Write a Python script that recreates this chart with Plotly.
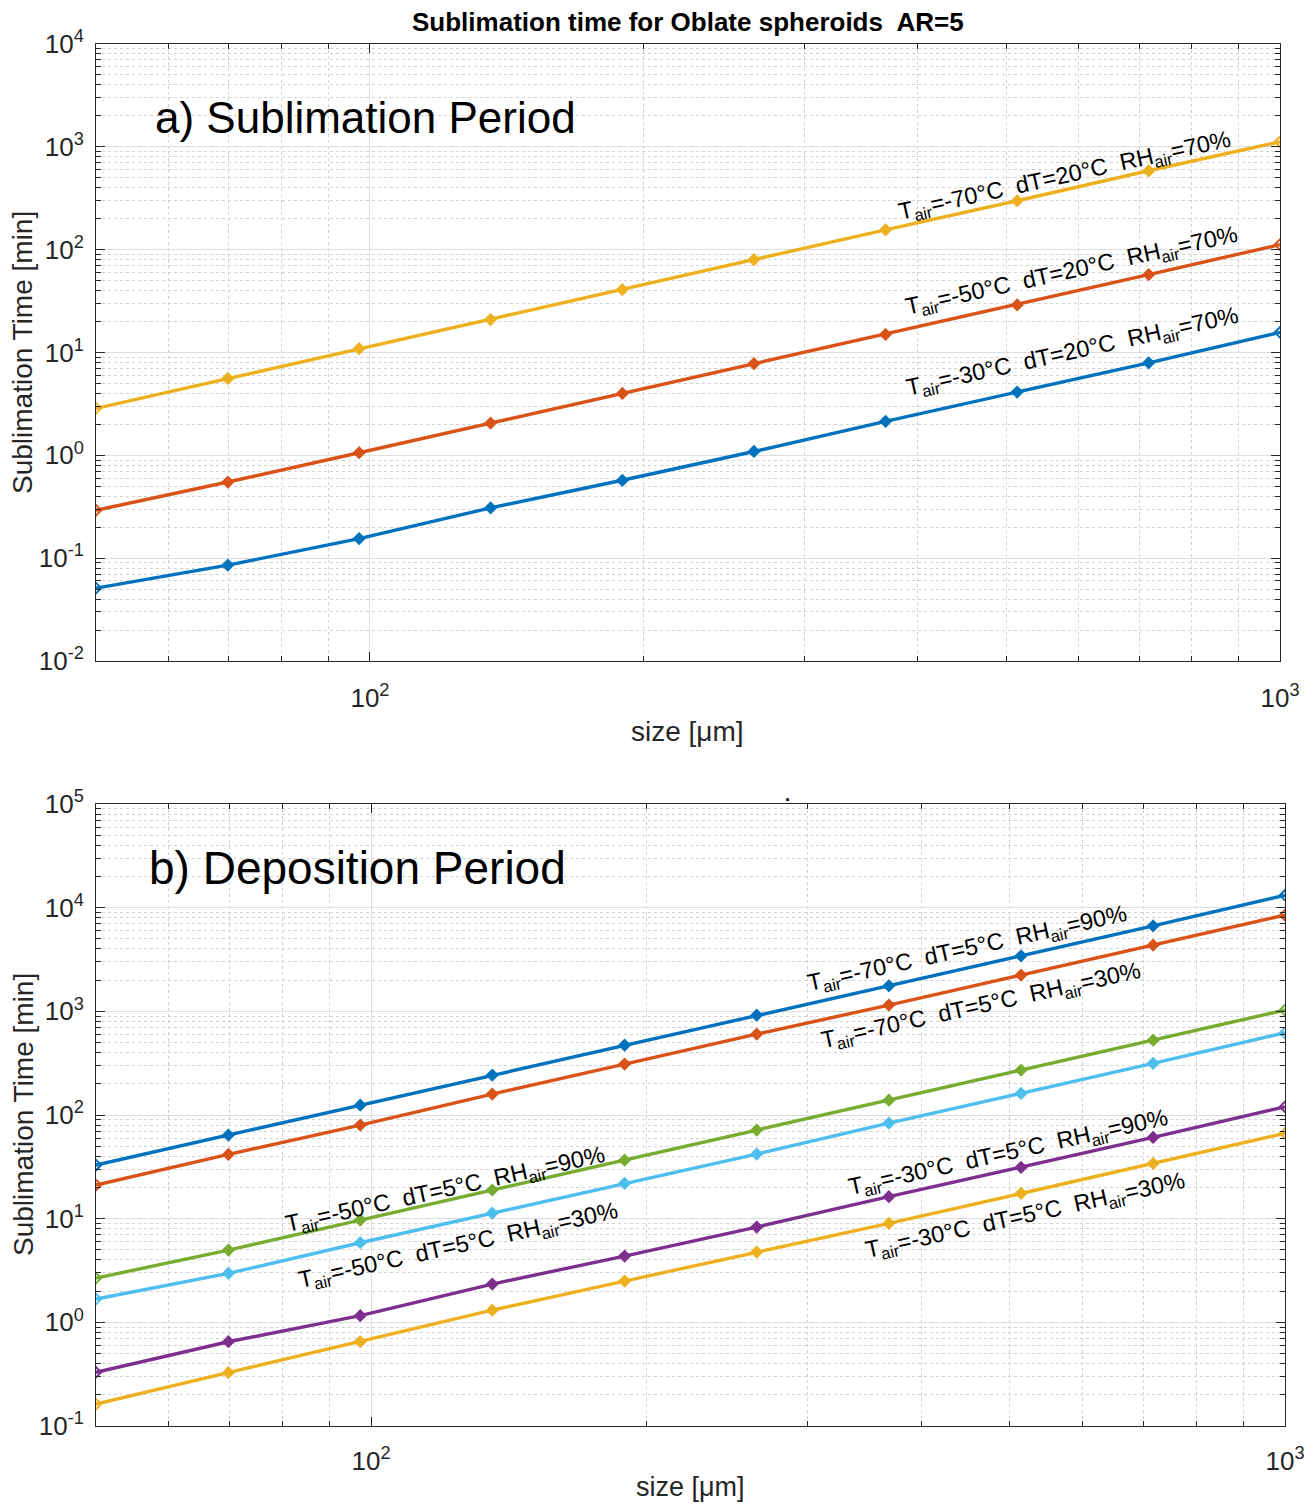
import plotly.graph_objects as go

# ---------------- data ----------------
size_um = [50, 69.8, 97.3, 135.7, 189.4, 264.2, 368.6, 514.2, 717.3, 1000]

# a) Sublimation period, dT=20°C, RH=70%
sub_m70 = [2.86, 5.59, 10.9, 20.9, 40.9, 80, 156, 299, 585, 1119]
sub_m50 = [0.292, 0.55, 1.06, 2.06, 4.0, 7.8, 15.0, 29.0, 57.2, 112]
sub_m30 = [0.0511, 0.0855, 0.155, 0.308, 0.572, 1.09, 2.14, 4.12, 7.94, 15.7]

# b) Deposition period, dT=5°C
dep_m70_90 = [32.9, 64, 124.5, 242.6, 472, 919, 1762, 3430, 6670, 13200]
dep_m70_30 = [21.1, 41.7, 80, 159, 310, 603, 1148, 2234, 4350, 8470]
dep_m30_30 = [0.163, 0.327, 0.650, 1.31, 2.50, 4.76, 9.0, 17.5, 34.1, 66.5]
dep_m30_90 = [0.330, 0.650, 1.16, 2.34, 4.36, 8.3, 16.3, 31.2, 60.8, 120]
dep_m50_90 = [2.67, 4.98, 9.69, 18.9, 36.7, 71.5, 139, 271, 527, 1028]
dep_m50_30 = [1.68, 2.97, 5.86, 11.3, 21.9, 42, 83.5, 161.5, 314.5, 621]

top_ticks = [1e-2, 1e-1, 1e0, 1e1, 1e2, 1e3, 1e4]
top_ticktext = ["10<sup>-2</sup>", "10<sup>-1</sup>", "10<sup>0</sup>", "10<sup>1</sup>",
                "10<sup>2</sup>", "10<sup>3</sup>", "10<sup>4</sup>"]
bot_ticks = [1e-1, 1e0, 1e1, 1e2, 1e3, 1e4, 1e5]
bot_ticktext = ["10<sup>-1</sup>", "10<sup>0</sup>", "10<sup>1</sup>", "10<sup>2</sup>",
                "10<sup>3</sup>", "10<sup>4</sup>", "10<sup>5</sup>"]
x_ticks = [100, 1000]
x_ticktext = ["10<sup>2</sup>", "10<sup>3</sup>"]

# ---------------- styling ----------------
BLUE = "#0072BD"
ORANGE = "#D95319"
YELLOW = "#EDB120"
PURPLE = "#7E2F8E"
GREEN = "#77AC30"
LBLUE = "#4DBEEE"
FONT = "Liberation Sans, Arial, Helvetica, sans-serif"
AXC = "#262626"

# page body has an 8px margin, so the figure is drawn 8px in from the window edge
OFF = 8
W, H = 1316 - 2 * OFF, 1512 - 2 * OFF
fig = go.Figure()

n = len(size_um)
symbols = ["diamond-open"] + ["diamond"] * (n - 2) + ["diamond-open"]


def add_series(y, color, xa, ya):
    fig.add_trace(go.Scatter(
        x=size_um, y=y, mode="lines+markers", xaxis=xa, yaxis=ya,
        line=dict(color=color, width=3.4),
        marker=dict(symbol=symbols, size=8, color=color,
                    line=dict(color=color, width=2)),
        showlegend=False, hoverinfo="x+y"))


add_series(sub_m30, BLUE, "x", "y")
add_series(sub_m50, ORANGE, "x", "y")
add_series(sub_m70, YELLOW, "x", "y")

add_series(dep_m70_90, BLUE, "x2", "y2")
add_series(dep_m70_30, ORANGE, "x2", "y2")
add_series(dep_m30_30, YELLOW, "x2", "y2")
add_series(dep_m30_90, PURPLE, "x2", "y2")
add_series(dep_m50_90, GREEN, "x2", "y2")
add_series(dep_m50_30, LBLUE, "x2", "y2")


def minor_vals(lo, hi):
    vals = []
    for e in range(lo, hi):
        for m in range(2, 10):
            vals.append(m * 10 ** e)
    return vals


def common_axis(tickvals, ticktext, minor, rng):
    return dict(
        type="log", range=rng,
        tickmode="array", tickvals=tickvals, ticktext=ticktext,
        ticks="inside", ticklen=9, tickwidth=1, tickcolor=AXC,
        showline=True, linecolor=AXC, linewidth=1, mirror="ticks",
        showgrid=True, gridcolor="#dedede", gridwidth=1,
        zeroline=False,
        tickfont=dict(family=FONT, size=26, color=AXC),
        minor=dict(tickmode="array", tickvals=minor, ticks="inside", ticklen=5,
                   tickcolor=AXC, showgrid=True, gridcolor="#d2d2d2",
                   griddash="dot", gridwidth=1),
        automargin=False,
    )


def px(v):
    return (v - OFF) / W


def py(v):
    return 1 - (v - OFF) / H


xr = [1.69897, 3.0]
fig.update_layout(
    width=W, height=H,
    margin=dict(l=0, r=0, t=0, b=0),
    paper_bgcolor="white", plot_bgcolor="white",
    xaxis=dict(domain=[px(96), px(1280)], anchor="y", ticklabelstandoff=14,
               **common_axis(x_ticks, x_ticktext, minor_vals(1, 3), xr)),
    yaxis=dict(domain=[py(661), py(44)], anchor="x", ticklabelstandoff=6,
               **common_axis(top_ticks, top_ticktext, minor_vals(-2, 4), [-2, 4])),
    xaxis2=dict(domain=[px(96), px(1285)], anchor="y2", ticklabelstandoff=12,
                **common_axis(x_ticks, x_ticktext, minor_vals(1, 3), xr)),
    yaxis2=dict(domain=[py(1426), py(804)], anchor="x2", ticklabelstandoff=6,
                **common_axis(bot_ticks, bot_ticktext, minor_vals(-1, 5), [-1, 5])),
)

annotations = []


def text(x, y, s, size, angle=0, bold=False, color="black"):
    annotations.append(dict(
        x=px(x), y=py(y), xref="paper", yref="paper",
        text=(f"<b>{s}</b>" if bold else s),
        showarrow=False, textangle=angle, xanchor="center", yanchor="middle",
        font=dict(family=FONT, size=size, color=color)))


text(688, 22, "Sublimation time for Oblate spheroids\u00a0 AR=5", 26, bold=True)
text(365, 117, "a) Sublimation Period", 44)
text(357, 868, "b) Deposition Period", 46)
text(787, 795, ".", 18, bold=True)

for yc in (353, 1115):
    text(23, yc, "Sublimation Time [min]", 28, angle=-90, color=AXC)
text(687, 731, "size [\u03bcm]", 28, color=AXC)
text(690, 1487, "size [\u03bcm]", 27, color=AXC)

sp = "\u00a0 "


def lab(T, dT, RH):
    return f"T<sub>air</sub>=-{T}°C{sp}dT={dT}°C{sp}RH<sub>air</sub>={RH}%"


ang = -12.5
LS = 23.5
text(1065, 176, lab(70, 20, 70), LS, ang)
text(1072, 271, lab(50, 20, 70), LS, ang)
text(1073, 353, lab(30, 20, 70), LS, ang)

text(967, 949, lab(70, 5, 90), LS, ang)
text(981, 1007, lab(70, 5, 30), LS, ang)
text(445, 1190, lab(50, 5, 90), LS, ang)
text(458, 1246, lab(50, 5, 30), LS, ang)
text(1008, 1153, lab(30, 5, 90), LS, ang)
text(1025, 1216, lab(30, 5, 30), LS, ang)

fig.update_layout(annotations=annotations)
fig.write_html("out.html")
